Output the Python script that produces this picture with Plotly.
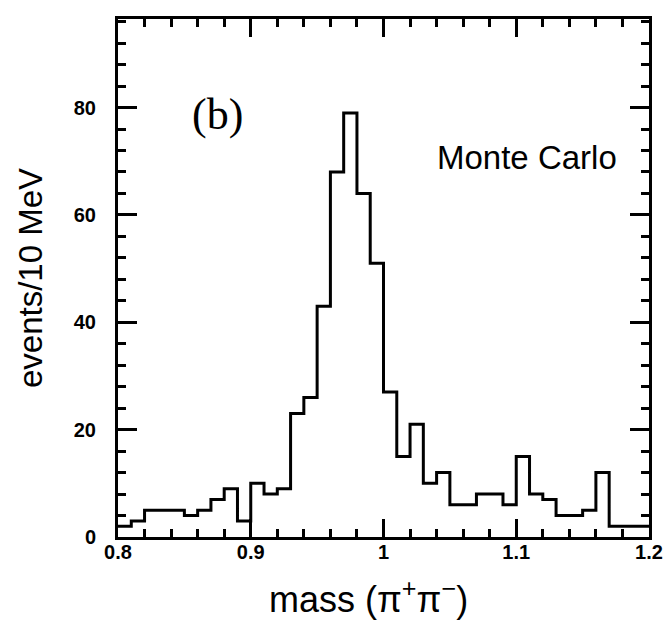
import plotly.graph_objects as go

# Histogram data: events per 10 MeV bin, from 0.80 to 1.20
bin_start = 0.80
bin_width = 0.01
counts = [2, 3, 5, 5, 5, 4, 5, 7, 9, 3,
          10, 8, 9, 23, 26, 43, 68, 79, 64, 51,
          27, 15, 21, 10, 12, 6, 6, 8, 8, 6,
          15, 8, 7, 4, 4, 5, 12, 2, 2, 2]

x_ticks = [0.8, 0.9, 1.0, 1.1, 1.2]
x_ticklabels = ["0.8", "0.9", "1", "1.1", "1.2"]
y_ticks = [0, 20, 40, 60, 80]
y_ticklabels = ["0", "20", "40", "60", "80"]

edges = [bin_start + bin_width * i for i in range(len(counts) + 1)]
step_y = counts + [counts[-1]]

fig = go.Figure()
fig.add_trace(go.Scatter(
    x=edges, y=step_y, mode="lines", line_shape="hv",
    line=dict(color="black", width=3), showlegend=False, hoverinfo="skip",
))

tickfont = dict(family="Liberation Sans, Arial, sans-serif", size=20, color="black")
bold = lambda s: "<b>" + s + "</b>"

fig.update_xaxes(
    range=[0.8, 1.2], showgrid=False, zeroline=False,
    showline=True, linecolor="black", linewidth=3, mirror="allticks",
    ticks="inside", ticklen=18, tickwidth=2.5, tickcolor="black",
    tickvals=x_ticks, ticktext=[bold(t) for t in x_ticklabels], tickfont=tickfont,
    ticklabelstandoff=-5,
    minor=dict(ticks="inside", ticklen=8, tickwidth=2.5, tickcolor="black", dtick=0.02, showgrid=False),
)
fig.update_yaxes(
    range=[0, 96.5], showgrid=False, zeroline=False,
    showline=True, linecolor="black", linewidth=3, mirror="allticks",
    ticks="inside", ticklen=19, tickwidth=2.5, tickcolor="black",
    tickvals=y_ticks, ticktext=[bold(t) for t in y_ticklabels], tickfont=tickfont,
    ticklabelstandoff=15,
    minor=dict(ticks="inside", ticklen=8, tickwidth=2.5, tickcolor="black", dtick=4, showgrid=False),
    title=dict(text="events/10 MeV",
               font=dict(family="Liberation Sans, Arial, sans-serif", size=33, color="black"),
               standoff=22),
)

fig.add_annotation(text="mass (π<sup>+</sup>π<sup>−</sup>)", xref="paper", yref="paper",
                   x=0.472, y=-0.115, showarrow=False, xanchor="center", yanchor="middle",
                   font=dict(family="Liberation Sans, Arial, sans-serif", size=36, color="black"))
fig.add_annotation(text="(b)", xref="paper", yref="paper", x=0.187, y=0.815,
                   showarrow=False, xanchor="center", yanchor="middle",
                   font=dict(family="Liberation Serif, Times New Roman, serif", size=44, color="black"))
fig.add_annotation(text="Monte Carlo", xref="paper", yref="paper", x=0.771, y=0.733,
                   showarrow=False, xanchor="center", yanchor="middle",
                   font=dict(family="Liberation Sans, Arial, sans-serif", size=33, color="black"))

fig.update_layout(
    width=663, height=612,
    margin=dict(l=110, r=19, t=8, b=83),
    plot_bgcolor="white", paper_bgcolor="white",
)

fig.write_html("out.html")
